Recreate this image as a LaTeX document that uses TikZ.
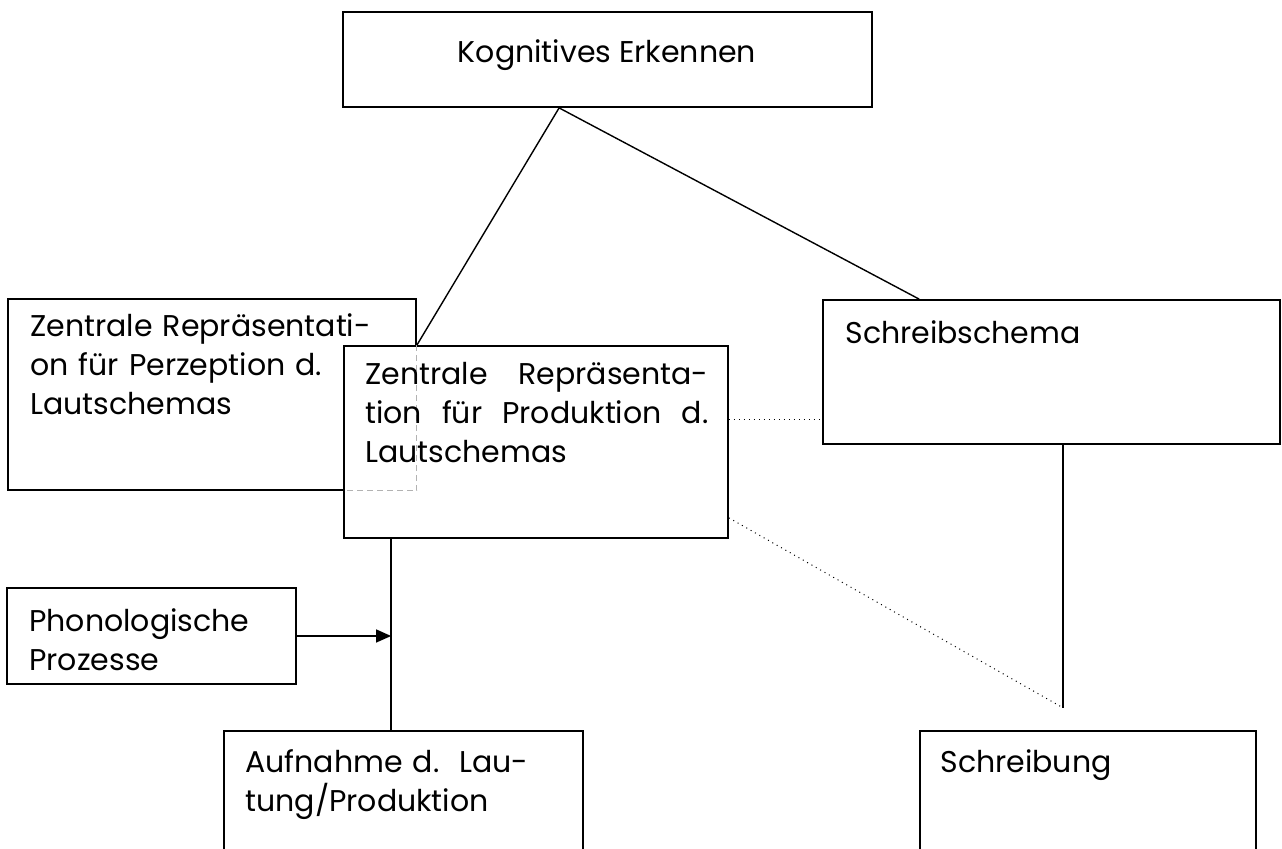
\documentclass[tikz,border=0pt]{standalone}
\usepackage{fontspec}
\setmainfont{Poppins}
\usetikzlibrary{calc,fit,arrows.meta}
\tikzset{
  box/.style={draw, line width=0.9pt, inner sep=0pt},
  lbl/.style={inner sep=0pt, anchor=base west, font=\fontsize{15}{19.5}\selectfont},
  link/.style={line width=0.7pt},
  weak/.style={line width=0.5pt, dotted},
  hidden/.style={line width=0.5pt, gray!60, densely dashed}
}
\begin{document}
\begin{tikzpicture}[x=0.5pt,y=-0.5pt]
    \clip (0,0) rectangle (1282,849);
    \node[box, fit={(343,12) (872,107)}] (kog) {};
    \node[box, fit={(8,299) (416,490)}] (perz) {};
    \node[box, fill=white, fit={(344,346) (728,538)}] (prod) {};
    \node[box, fit={(823,300) (1280,444)}] (schema) {};
    \node[box, fit={(7,588) (296,684)}] (phon) {};
    \node[box, fit={(224,731) (583,900)}] (aufn) {};
    \node[box, fit={(920,731) (1256,900)}] (schrb) {};
    \draw[hidden] (prod.north -| perz.east) -- (perz.south east) -- (perz.south -| prod.west);
    \node[lbl, anchor=base] (kogtxt) at (607,63) {Kognitives Erkennen};
    \node[lbl, text width=200pt, align=left] (perztxt) at (30,337) {Zentrale Repräsentati-\\on für Perzeption d.\\Lautschemas};
    \node[lbl, text width=171.5pt, align=justify] (prodtxt) at (365,385) {Zentrale Repräsenta-\linebreak tion für Produktion d.\linebreak Lautschemas};
    \node[lbl] (schematxt) at (845,344) {Schreibschema};
    \node[lbl, text width=140pt, align=left] (phontxt) at (29,632) {Phonologische\\Prozesse};
    \node[lbl, text width=170pt, align=left] (aufntxt) at (245,773) {Aufnahme d.\ \ Lau-\\tung/Produktion};
    \node[lbl] (schrbtxt) at (940,773) {Schreibung};
    \coordinate (split) at ($(kog.south west)+(217,0)$);
    \coordinate (trunk) at ($(prod.south west)+(48,0)$);
    \coordinate (tip) at ($(schema.south west)+(241,263)$);
    \draw[link] (split) -- (prod.north -| perz.east);
    \draw[link] (split) -- ($(schema.north west)+(97,0)$);
    \draw[link] (trunk) -- (trunk |- aufn.north);
    \draw[link, -{Triangle[length=7.5pt,width=6.5pt]}] (phon.east) -- (phon.east -| trunk);
    \draw[weak] ($(prod.north east)+(0,74)$) -- ($(schema.north west)+(0,120)$);
    \draw[link] (schema.south -| tip) -- (tip);
    \draw[weak] ($(prod.south east)+(0,-21)$) -- (tip);
\end{tikzpicture}
\end{document}
